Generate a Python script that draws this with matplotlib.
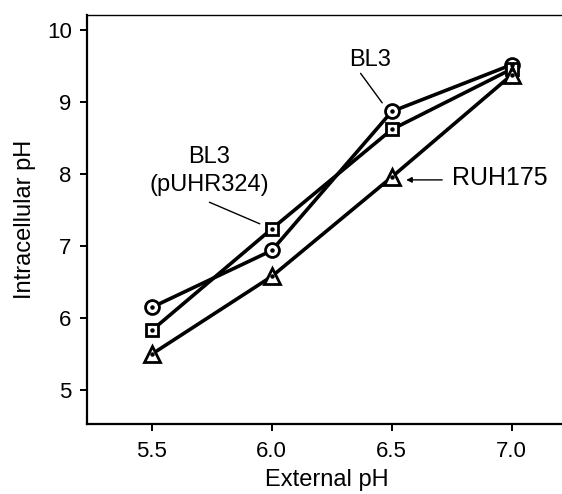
import matplotlib
matplotlib.use("Agg")
import matplotlib.pyplot as plt

plt.rcParams['font.family'] = ['Liberation Sans', 'DejaVu Sans']

external_ph = [5.5, 6.0, 6.5, 7.0]
bl3 = [6.15, 6.94, 8.87, 9.52]
bl3_puhr324 = [5.83, 7.24, 8.62, 9.46]
ruh175 = [5.50, 6.58, 7.96, 9.38]

fig = plt.figure(figsize=(5.62, 4.94), dpi=100)
ax = fig.add_axes([87 / 562, 1 - 424 / 494, 480 / 562, 409 / 494])

series = [(bl3, 'o', 10), (bl3_puhr324, 's', 9), (ruh175, '^', 11)]
for vals, m, ms in series:
    ax.plot(external_ph, vals, color='black', lw=2.6, marker=m, ms=ms,
            mfc='white', mec='black', mew=2.0, zorder=3)
    ax.plot(external_ph, vals, ls='none', marker='o', ms=2.2, color='black', zorder=4)

ax.set_xlim(5.23, 7.23)
ax.set_ylim(4.53, 10.21)
ax.set_xticks([5.5, 6.0, 6.5, 7.0])
ax.set_xticklabels(['5.5', '6.0', '6.5', '7.0'])
ax.set_yticks([5, 6, 7, 8, 9, 10])

ax.spines['right'].set_visible(False)
ax.spines['top'].set_linewidth(1.0)
ax.spines['left'].set_linewidth(1.6)
ax.spines['bottom'].set_linewidth(1.6)
ax.tick_params(labelsize=16, length=5, width=1.4)
ax.tick_params(axis='x', pad=7)
ax.tick_params(axis='y', pad=6)

ax.set_xlabel('External pH', fontsize=17, labelpad=5)
ax.set_ylabel('Intracellular pH', fontsize=17, labelpad=8)

# labels and leader lines
line_kw = dict(arrowstyle='-', lw=1, color='black', shrinkA=0, shrinkB=0)
ax.text(6.41, 9.58, 'BL3', fontsize=17, ha='center', va='center')
ax.annotate('', xy=(6.46, 8.99), xytext=(6.37, 9.40), arrowprops=line_kw)

ax.text(5.74, 8.04, 'BL3\n(pUHR324)', fontsize=17, ha='center', va='center',
        linespacing=1.35)
ax.annotate('', xy=(5.95, 7.31), xytext=(5.74, 7.61), arrowprops=line_kw)

ax.text(6.75, 7.94, 'RUH175', fontsize=18, ha='left', va='center')
ax.annotate('', xy=(6.56, 7.92), xytext=(6.71, 7.92),
            arrowprops=dict(arrowstyle='-|>', mutation_scale=8, lw=1,
                            color='black', shrinkA=0, shrinkB=0))

fig.savefig('out.png', dpi=100)
